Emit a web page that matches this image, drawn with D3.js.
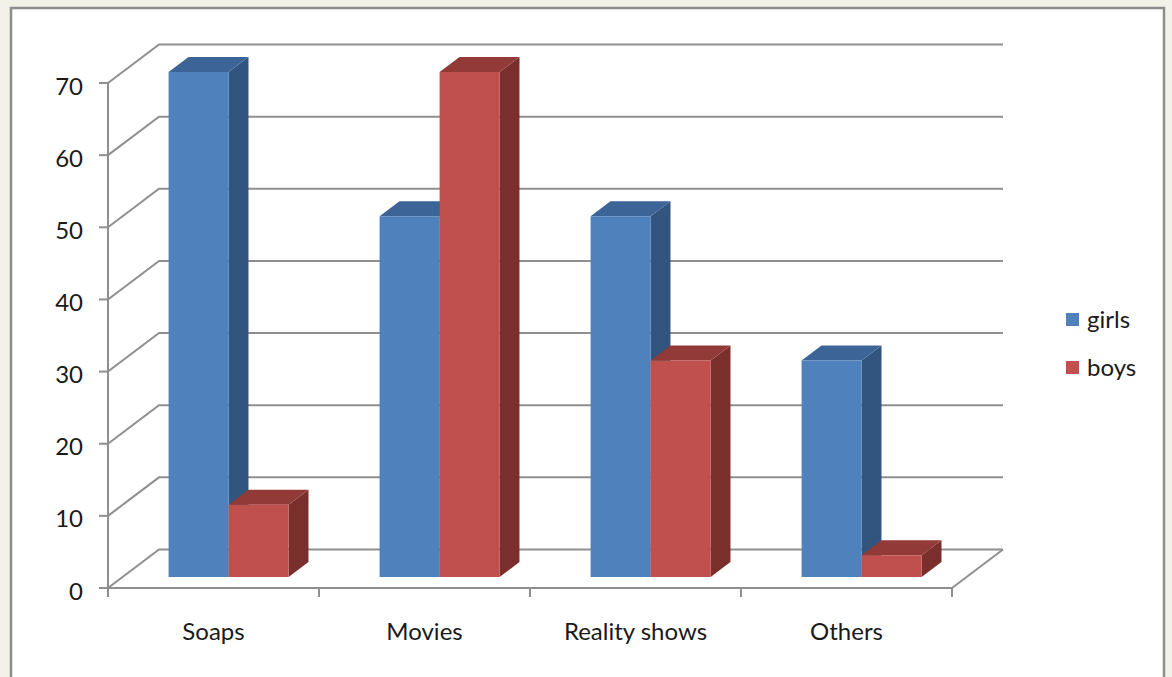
<!DOCTYPE html>
<html>
<head>
<meta charset="utf-8">
<script src="https://cdn.jsdelivr.net/npm/d3@7"></script>
<style>
html,body{margin:0;padding:0;background:#f3f2e8;}
svg{display:block;}
text{font-family:Lato,"Open Sans",sans-serif;fill:#1a1a1a;}
</style>
</head>
<body>
<script>
const categories = ["Soaps", "Movies", "Reality shows", "Others"];
const series = ["girls", "boys"];
const girls = [70, 50, 50, 30];
const boys = [10, 70, 30, 3];
const yTicks = [0, 10, 20, 30, 40, 50, 60, 70];

const W = 1172, H = 677;
const svg = d3.select("body").append("svg").attr("width", W).attr("height", H);

// chart frame
svg.append("rect").attr("x", 11).attr("y", 8).attr("width", 1153).attr("height", 700)
  .attr("fill", "#ffffff").attr("stroke", "#8c8c8c").attr("stroke-width", 2.5);

const X0 = 108, X1 = 952, Y0 = 588, YTOP = 83;
const DX = 51, DY = -38.5;
const f0 = 0.286, f1 = 0.676;

const x = d3.scaleBand().domain(categories).range([X0, X1]).paddingInner(0).paddingOuter(0);
const xs = d3.scaleBand().domain(series).range([46, 166]).padding(0);
const y = d3.scaleLinear().domain([0, 70]).range([Y0, YTOP]);

const colors = {
  girls: {front: "#4f81bd", top: "#3d6496", side: "#32557f"},
  boys:  {front: "#c0504d", top: "#923a37", side: "#7b2f2d"}
};
const gridColor = "#8f8f8f";
const FS = 24;

// walls: left side lines + back wall gridlines
const grid = svg.append("g").attr("fill", "none").attr("stroke", gridColor).attr("stroke-width", 2);
grid.selectAll("path.g").data(yTicks).join("path").attr("class", "g")
  .attr("d", v => d3.line()([[X0, y(v)], [X0 + DX, y(v) + DY], [X1 + DX, y(v) + DY]]));
// floor right edge
grid.append("path").attr("d", d3.line()([[X1, y(0)], [X1 + DX, y(0) + DY]]));

// axes
const ax = svg.append("g").attr("fill", "none").attr("stroke", gridColor).attr("stroke-width", 2);
ax.append("path").attr("d", d3.line()([[X0, y(0)], [X1, y(0)]]));
ax.append("path").attr("d", d3.line()([[X0, y(0)], [X0, y(70)]]));
ax.selectAll("path.yt").data(yTicks).join("path").attr("class", "yt")
  .attr("d", v => d3.line()([[X0 - 9, y(v)], [X0, y(v)]]));
const bounds = categories.map(c => x(c)).concat([X1]);
ax.selectAll("path.xt").data(bounds).join("path").attr("class", "xt")
  .attr("d", b => d3.line()([[b, y(0)], [b, y(0) + 9]]));

// y labels
svg.append("g").selectAll("text").data(yTicks).join("text")
  .attr("x", 83).attr("y", v => y(v) + 2).attr("text-anchor", "end")
  .attr("dominant-baseline", "central").attr("font-size", FS).text(v => v);

// x labels
svg.append("g").selectAll("text").data(categories).join("text")
  .attr("x", c => x(c) + x.bandwidth() / 2).attr("y", 640).attr("text-anchor", "middle")
  .attr("font-size", FS).text(c => c);

// bars
const P = (px, v, f) => [px + f * DX, y(v) + f * DY];
const bars = [];
categories.forEach((c, i) => {
  bars.push({cat: c, s: "girls", v: girls[i]});
  bars.push({cat: c, s: "boys", v: boys[i]});
});
const bg = svg.append("g");
bars.forEach(d => {
  const xl = x(d.cat) + xs(d.s), xr = xl + xs.bandwidth();
  const col = colors[d.s];
  const g = bg.append("g");
  g.append("path").attr("fill", col.side)
    .attr("d", d3.line()([P(xr, d.v, f0), P(xr, d.v, f1), P(xr, 0, f1), P(xr, 0, f0)]) + "Z");
  g.append("path").attr("fill", col.top)
    .attr("d", d3.line()([P(xl, d.v, f0), P(xr, d.v, f0), P(xr, d.v, f1), P(xl, d.v, f1)]) + "Z");
  g.append("path").attr("fill", col.front)
    .attr("d", d3.line()([P(xl, d.v, f0), P(xr, d.v, f0), P(xr, 0, f0), P(xl, 0, f0)]) + "Z");
});

// legend
const leg = svg.append("g");
series.forEach((s, i) => {
  const cy = 320 + i * 48;
  leg.append("rect").attr("x", 1066).attr("y", cy - 7).attr("width", 13).attr("height", 13)
    .attr("fill", colors[s].front);
  leg.append("text").attr("x", 1087).attr("y", cy + 8).attr("font-size", FS).text(s);
});
</script>
</body>
</html>
